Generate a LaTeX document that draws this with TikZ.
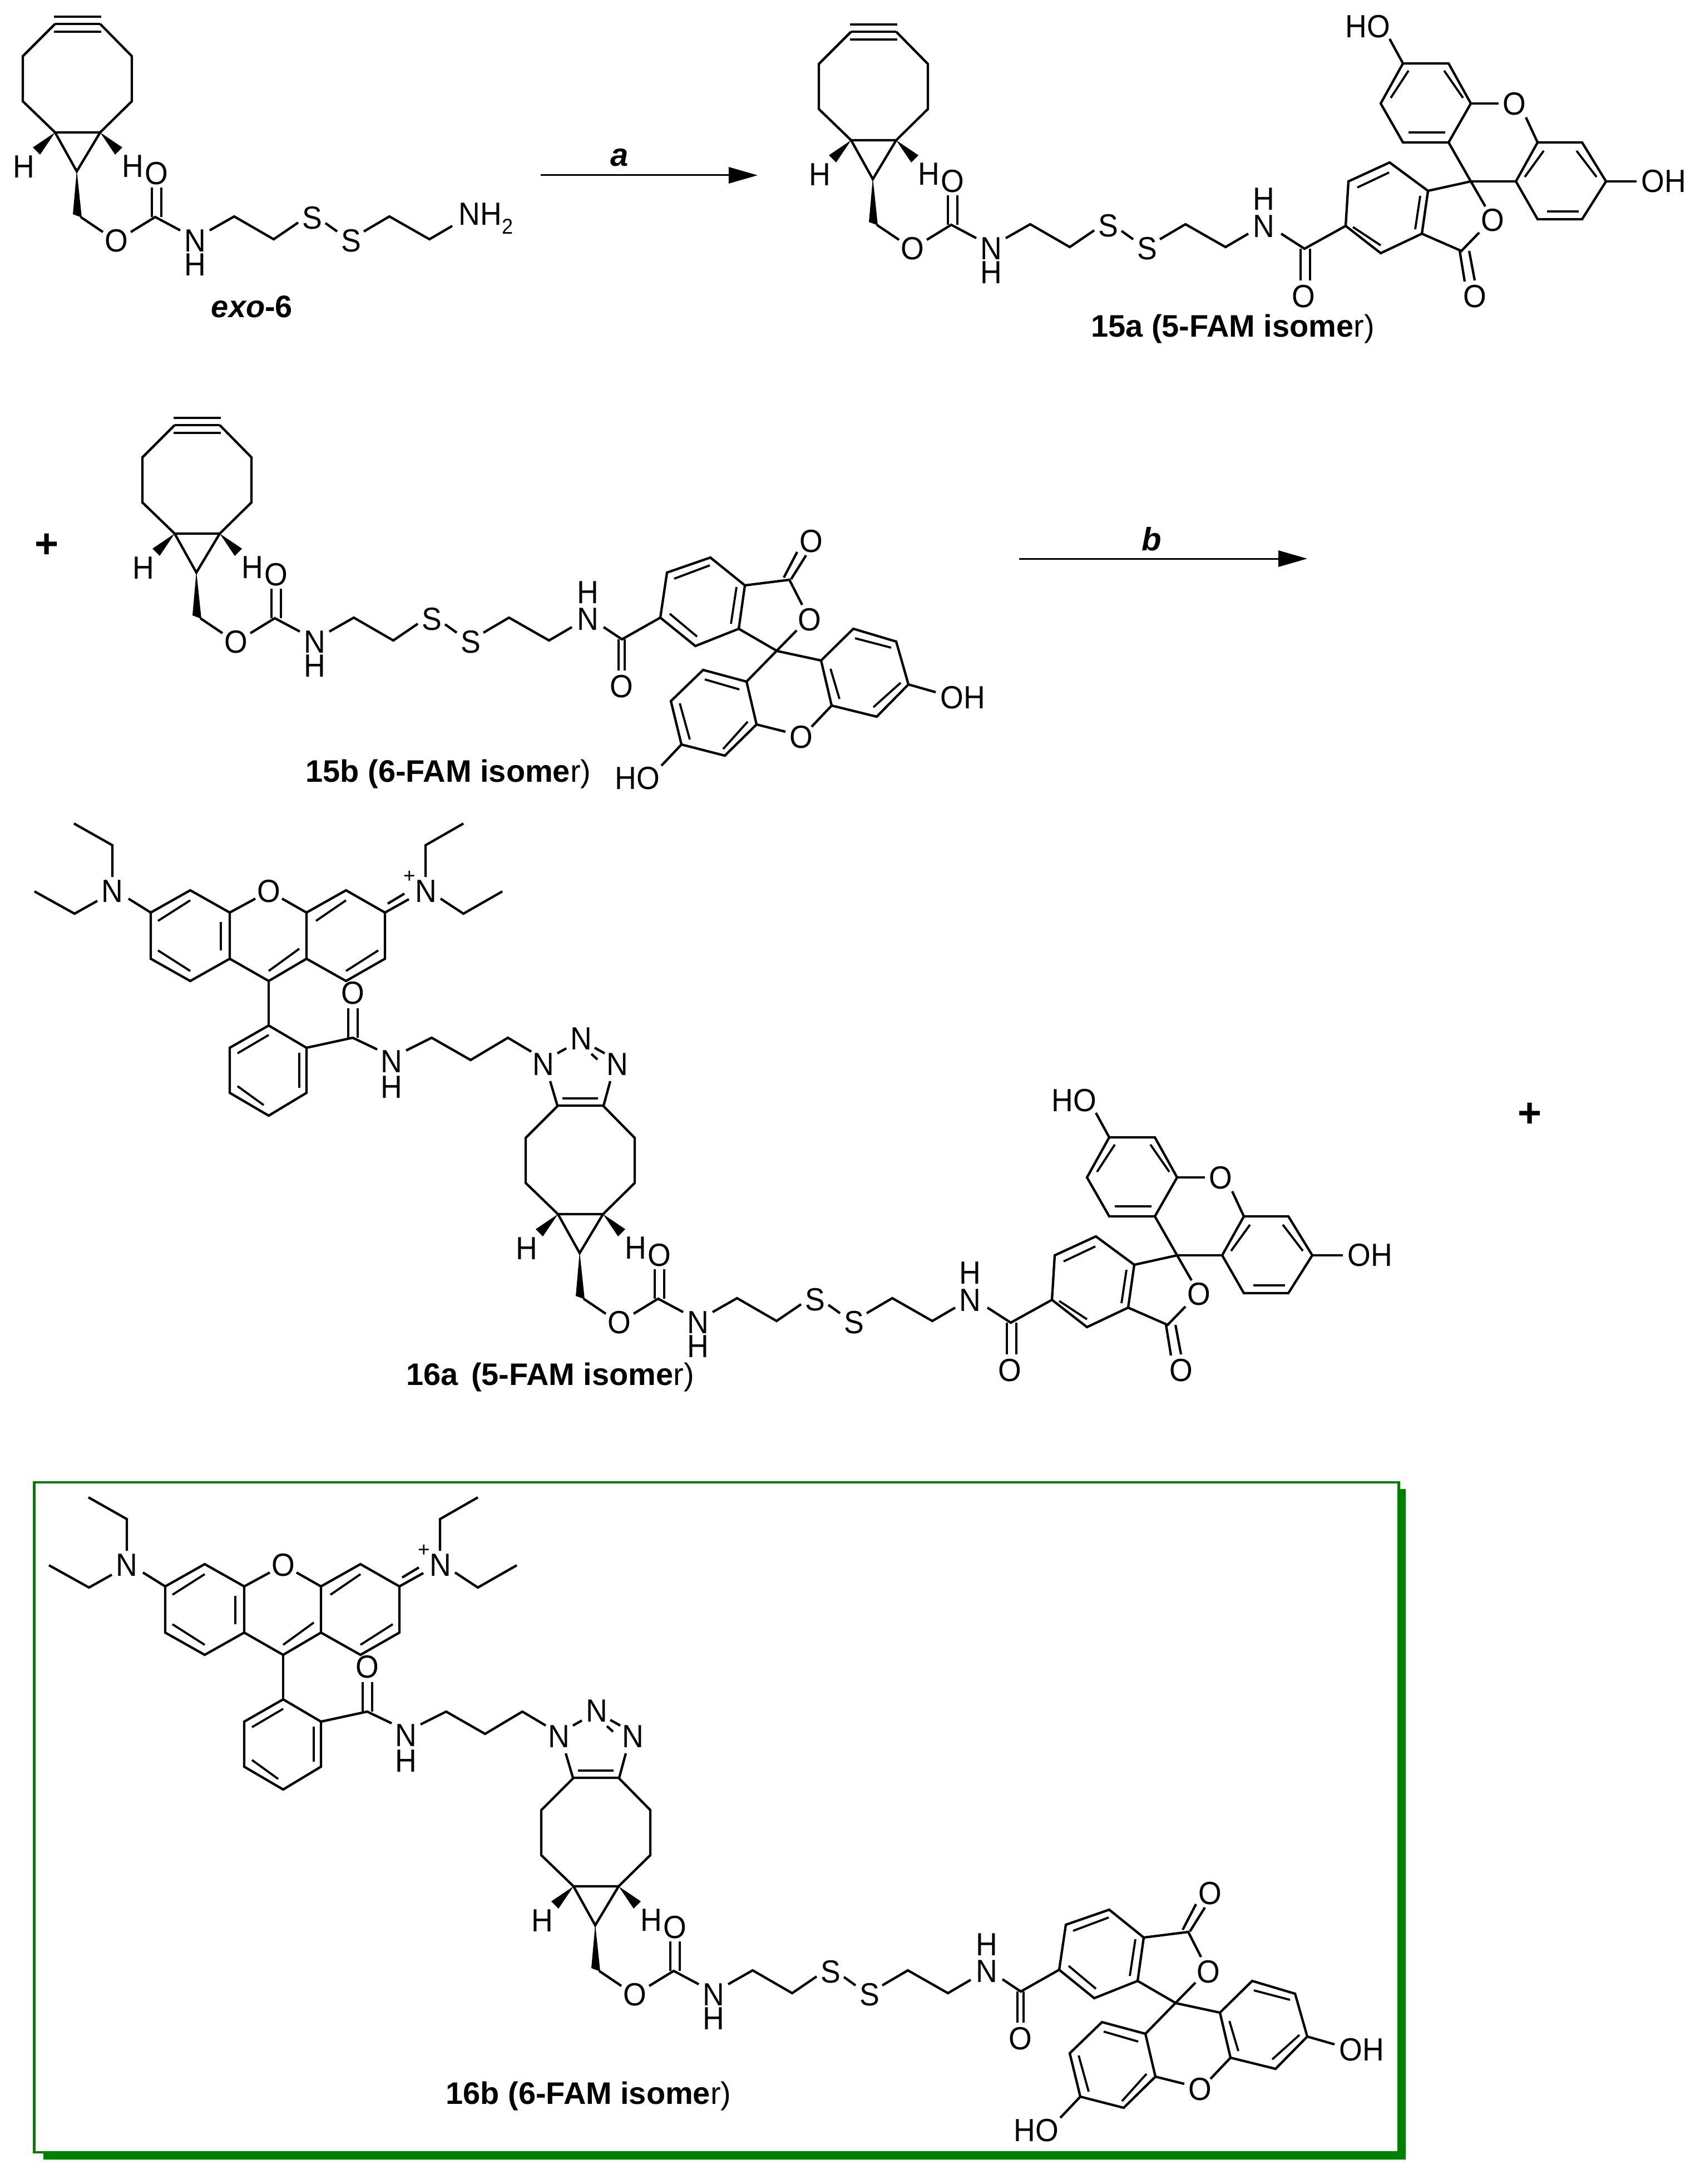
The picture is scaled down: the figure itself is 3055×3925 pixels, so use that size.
\documentclass[tikz,border=0pt]{standalone}
\usepackage{fontspec}
\setmainfont{Liberation Sans}
\newfontfamily\atomfam[FakeStretch=0.93]{Liberation Sans}
\usetikzlibrary{arrows.meta}
\definecolor{boxgreen}{RGB}{0,128,0}
\newcommand{\atomfont}{\atomfam\fontsize{16.4}{18}\selectfont}
\newcommand{\capfont}{\fontsize{15.9}{18}\selectfont\bfseries}
\tikzset{
  bond/.style={line width=.043cm,line join=miter,miter limit=6},
  inbond/.style={line width=.038cm},
  atom/.style={inner sep=0pt,font=\atomfont},
  capt/.style={inner sep=0pt,anchor=base,font=\capfont},
  wedgefill/.style={fill=black,draw=none},
  rxn/.style={line width=.03cm,-{Triangle[length=.52cm,width=.29cm]}},
  plus/.style={inner sep=0pt,font=\fontsize{21}{22}\selectfont\bfseries}
}
% bicyclononane + carbamate + disulfide chain, exo-6 coordinates
\newcommand{\chainpart}[3]{%
\begin{scope}[shift={(#2,#3)}]
  \draw[bond] (99,43)--(41,101)--(41,182)--(99,238)--(180,238)--(237,182)--(237,101)--(180,43);
  \draw[bond] (99,238)--(138,308)--(180,238);
  \fill[wedgefill] (99,238)--(59,265)--(72,278)--cycle;
  \fill[wedgefill] (180,238)--(220,265)--(207,278)--cycle;
  \fill[wedgefill] (138,306)--(131,385)--(147,391)--cycle;
  \node[atom] (#1hl) at (43,300) {H};
  \node[atom] (#1hr) at (239,299) {H};
  \node[atom] (#1o1) at (209,433) {O};
  \node[atom] (#1o2) at (281,312) {O};
  \node[atom] (#1n1) at (351,433) {N};
  \node[atom] (#1h1) at (351,476) {H};
  \node[atom] (#1s1) at (561,392) {S};
  \node[atom] (#1s2) at (631,433) {S};
  \draw[bond] (145,390)--(185,417);
  \draw[bond] (235,417)--(279,390)--(324,414);
  \draw[bond] (273,390)--(273,337);
  \draw[bond] (290,390)--(290,337);
  \draw[bond] (377,414)--(421,389)--(492,430)--(536,400);
  \draw[bond] (585,401)--(606,416);
  \draw[bond] (654,416)--(700,389)--(772,430)--(813,406);
\end{scope}}
\newcommand{\alkynepart}[2]{%
\begin{scope}[shift={(#1,#2)}]
  \draw[bond] (99,43)--(180,43);
  \draw[bond] (97,30)--(182,30);
  \draw[bond] (97,57)--(182,57);
\end{scope}}
\newcommand{\triazolepart}[3]{%
\begin{scope}[shift={(#2,#3)}]
  \node[atom] (#1tn1) at (73,-31) {N};
  \node[atom] (#1tn2) at (141,-77) {N};
  \node[atom] (#1tn3) at (206,-31) {N};
  \draw[bond] (85,-1)--(98,43)--(181,43)--(193,-1);
  \draw[inbond] (107,30)--(171,30);
  \draw[bond] (98,-51)--(114,-60);
  \draw[bond] (165,-61)--(183,-51);
  \draw[bond] (159,-50)--(170,-40);
\end{scope}}
% rhodamine + benzamide + propyl link, 16a coordinates
\newcommand{\rhodpart}[3]{%
\begin{scope}[shift={(#2,#3)}]
  \node[atom] (#1nl) at (202,1602) {N};
  \node[atom] (#1nr) at (766,1602) {N};
  \node[atom] (#1ox) at (483,1602) {O};
  \node[atom] (#1oa) at (634,1785) {O};
  \node[atom] (#1na) at (704,1908) {N};
  \node[atom] (#1ha) at (704,1954) {H};
  \node[inner sep=0pt,font=\fontsize{10.5}{11}\selectfont] (#1pl) at (736,1576) {+};
  \draw[bond] (271,1640)--(342,1600)--(413,1640)--(413,1723)--(342,1763)--(271,1723)--cycle;
  \draw[bond] (413,1723)--(483,1763)--(551,1723)--(551,1640);
  \draw[bond] (551,1640)--(622,1600)--(692,1640)--(692,1723)--(622,1763)--(551,1723);
  \draw[bond] (413,1640)--(459,1615);
  \draw[bond] (507,1615)--(551,1640);
  \draw[inbond] (342,1618)--(284,1655);
  \draw[inbond] (397,1657)--(397,1708);
  \draw[inbond] (342,1745)--(284,1708);
  \draw[inbond] (483,1745)--(538,1705);
  \draw[inbond] (568,1655)--(622,1618);
  \draw[inbond] (622,1745)--(680,1708);
  \draw[bond] (692,1640)--(735,1616);
  \draw[bond] (697,1624)--(727,1606);
  \draw[bond] (202,1576)--(202,1519)--(133,1480);
  \draw[bond] (175,1619)--(134,1642)--(62,1602);
  \draw[bond] (231,1615)--(271,1640);
  \draw[bond] (765,1576)--(765,1519)--(833,1480);
  \draw[bond] (792,1615)--(833,1642)--(903,1602);
  \draw[bond] (483,1763)--(483,1843);
  \draw[bond] (483,1843)--(551,1883)--(551,1964)--(483,2005)--(413,1964)--(413,1883)--cycle;
  \draw[inbond] (483,1860)--(427,1893);
  \draw[inbond] (538,1892)--(538,1955);
  \draw[inbond] (474,1986)--(427,1952);
  \draw[bond] (551,1883)--(634,1865)--(678,1886);
  \draw[bond] (626,1865)--(626,1812);
  \draw[bond] (643,1865)--(643,1812);
  \draw[bond] (730,1888)--(776,1865)--(846,1905)--(913,1865)--(955,1890);
\end{scope}}
% 5-FAM, coordinates of 15a
\newcommand{\famfive}[3]{%
\begin{scope}[shift={(#2,#3)}]
  \node[atom] (#1n) at (2272,407) {N};
  \node[atom] (#1h) at (2272,358) {H};
  \node[atom] (#1oa) at (2343,533) {O};
  \node[atom] (#1oc) at (2651,533) {O};
  \node[atom] (#1ol) at (2683,396) {O};
  \node[atom] (#1ox) at (2722,187) {O};
  \node[atom,anchor=west] (#1oh) at (2950,326) {OH};
  \node[atom] (#1ho) at (2459,48) {HO};
  \draw[bond] (2303,420)--(2345,447)--(2419,406);
  \draw[bond] (2338,447)--(2338,504);
  \draw[bond] (2355,447)--(2355,504);
  \draw[bond] (2419,406)--(2424,326)--(2498,292)--(2567,343)--(2556,420)--(2482,455)--cycle;
  \draw[inbond] (2440,337)--(2497,310);
  \draw[inbond] (2553,352)--(2544,412);
  \draw[inbond] (2432,408)--(2482,441);
  \draw[bond] (2567,343)--(2644,326);
  \draw[bond] (2556,420)--(2627,451)--(2659,418);
  \draw[bond] (2624,451)--(2633,506);
  \draw[bond] (2641,451)--(2651,504);
  \draw[bond] (2670,371)--(2644,326)--(2604,256);
  \draw[bond] (2604,256)--(2522,256)--(2482,186)--(2522,114)--(2604,114)--(2644,186)--cycle;
  \draw[inbond] (2532,127)--(2500,176);
  \draw[inbond] (2596,127)--(2630,176);
  \draw[inbond] (2532,238)--(2598,238);
  \draw[bond] (2644,186)--(2694,186);
  \draw[bond] (2743,211)--(2764,256);
  \draw[bond] (2764,256)--(2844,256)--(2887,326)--(2844,394)--(2764,394)--(2725,326)--cycle;
  \draw[inbond] (2775,271)--(2741,318);
  \draw[inbond] (2834,271)--(2870,318);
  \draw[inbond] (2781,380)--(2838,380);
  \draw[bond] (2644,326)--(2725,326);
  \draw[bond] (2887,326)--(2942,326);
  \draw[bond] (2522,114)--(2498,70);
\end{scope}}
% 6-FAM, coordinates of 15b
\newcommand{\famsix}[3]{%
\begin{scope}[shift={(#2,#3)}]
  \node[atom] (#1n) at (1057,1113) {N};
  \node[atom] (#1h) at (1057,1065) {H};
  \node[atom] (#1oa) at (1117,1234) {O};
  \node[atom] (#1oc) at (1458,973) {O};
  \node[atom] (#1ol) at (1455,1114) {O};
  \node[atom] (#1ox) at (1440,1325) {O};
  \node[atom,anchor=west] (#1oh) at (1690,1254) {OH};
  \node[atom,anchor=east] (#1ho) at (1187,1399) {HO};
  \draw[bond] (1085,1127)--(1118,1149)--(1187,1110);
  \draw[bond] (1112,1149)--(1112,1205);
  \draw[bond] (1123,1149)--(1123,1205);
  \draw[bond] (1187,1110)--(1199,1029)--(1277,1002)--(1339,1052)--(1328,1130)--(1250,1161)--cycle;
  \draw[inbond] (1212,1040)--(1276,1016);
  \draw[inbond] (1324,1055)--(1314,1121);
  \draw[inbond] (1204,1103)--(1253,1144);
  \draw[bond] (1339,1052)--(1419,1042)--(1442,1087);
  \draw[bond] (1409,1038)--(1433,992);
  \draw[bond] (1422,1041)--(1449,998);
  \draw[bond] (1432,1133)--(1342,1225);
  \draw[bond] (1328,1130)--(1397,1170)--(1476,1187);
  \draw[bond] (1476,1187)--(1534,1130)--(1611,1153)--(1633,1230)--(1576,1288)--(1495,1268)--cycle;
  \draw[inbond] (1537,1147)--(1602,1164);
  \draw[inbond] (1493,1202)--(1509,1256);
  \draw[inbond] (1619,1227)--(1570,1271);
  \draw[bond] (1633,1230)--(1682,1244);
  \draw[bond] (1495,1268)--(1459,1306);
  \draw[bond] (1412,1315)--(1360,1302);
  \draw[bond] (1342,1225)--(1264,1204)--(1206,1260)--(1225,1338)--(1303,1358)--(1360,1302)--cycle;
  \draw[inbond] (1267,1221)--(1329,1239);
  \draw[inbond] (1222,1264)--(1240,1329);
  \draw[inbond] (1300,1346)--(1344,1297);
  \draw[bond] (1225,1338)--(1189,1376);
\end{scope}}
\begin{document}
\begin{tikzpicture}[x=.01cm,y=-.01cm]
\useasboundingbox (0,0) rectangle (3055,3925);
\fill[white] (0,0) rectangle (3055,3925);
% exo-6
\chainpart{ex}{0}{0}
\alkynepart{0}{0}
\node[atom,anchor=west] (nh2) at (824,393) {NH\raisebox{-.28em}{\fontsize{11}{12}\selectfont 2}};
\node[capt] (lbexo) at (453,571) {\textit{exo}-6};
% arrow a
\coordinate (a1) at (972,315);
\coordinate (a2) at (1362,315);
\draw[rxn] (a1)--(a2);
\node[capt,font=\fontsize{16.5}{18}\selectfont\bfseries\itshape] (lba) at (1114,299) {a};
% 15a
\chainpart{fa}{1431}{14}
\alkynepart{1431}{14}
\famfive{fb}{0}{0}
\node[capt] (lb15a) at (2216,606) {15a (5-FAM isome{\mdseries r)}};
% plus 1 and 15b
\node[plus] (p1) at (84,981) {+};
\chainpart{ga}{215}{721}
\alkynepart{215}{721}
\famsix{gb}{0}{0}
\node[capt] (lb15b) at (806,1405) {15b (6-FAM isome{\mdseries r)}};
% arrow b
\coordinate (b1) at (1832,1004);
\coordinate (b2) at (2350,1004);
\draw[rxn] (b1)--(b2);
\node[capt,font=\fontsize{16.5}{18}\selectfont\bfseries\itshape] (lbb) at (2070,989) {b};
% 16a
\rhodpart{ra}{0}{0}
\chainpart{rc}{904}{1944}
\triazolepart{rt}{904}{1944}
\famfive{rf}{-528}{1930}
\node[capt] (lb16a) at (989,2489) {16a\hspace{.42em}(5-FAM isome{\mdseries r)}};
\node[plus] (p2) at (2750,2004) {+};
% box
\fill[boxgreen] (2512,2676) rectangle (2527,3881);
\fill[boxgreen] (78,3866) rectangle (2527,3881);
\draw[boxgreen,line width=.045cm] (61.5,2664) rectangle (2514.5,3868);
% 16b
\rhodpart{sa}{26}{1211}
\chainpart{sc}{932}{3152}
\triazolepart{st}{932}{3152}
\famsix{sf}{717}{2430}
\node[capt] (lb16b) at (1058,3781) {16b (6-FAM isome{\mdseries r)}};
\end{tikzpicture}
\end{document}
